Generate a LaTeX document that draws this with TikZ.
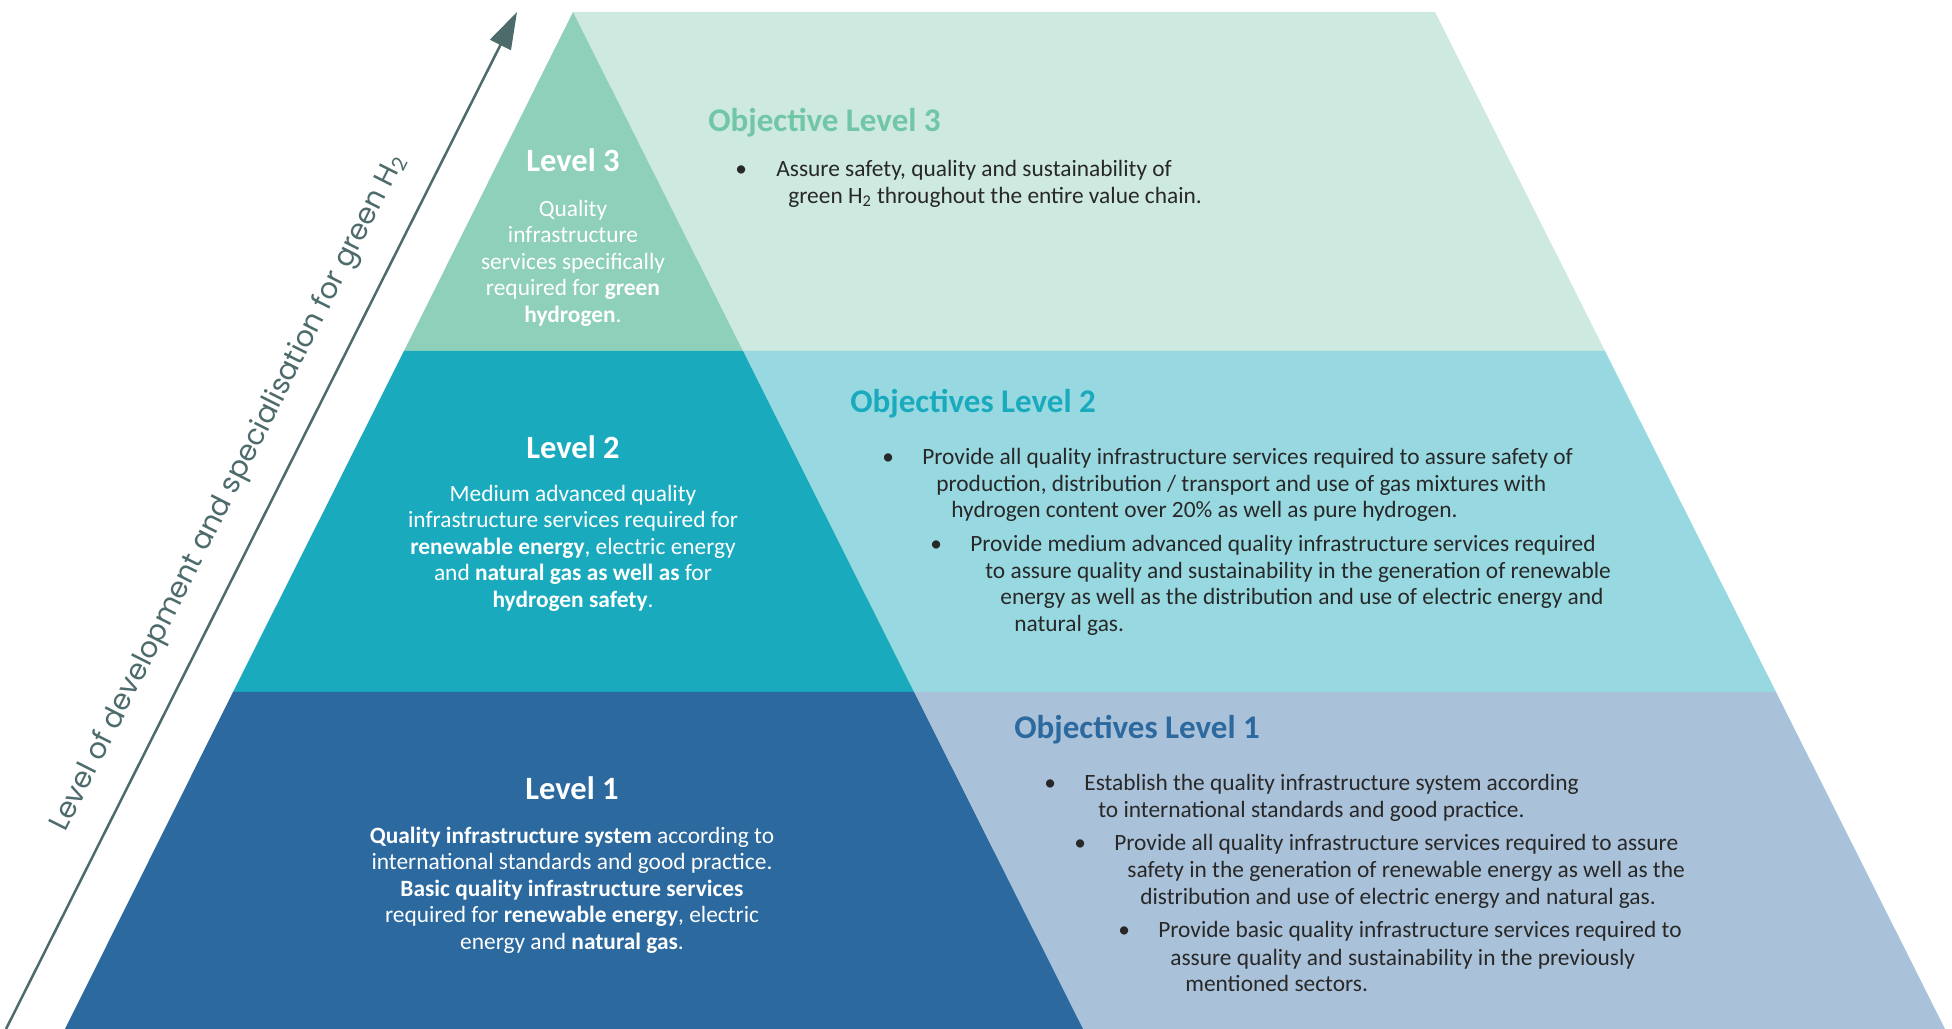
\documentclass[tikz,border=0pt]{standalone}
\usepackage{fontspec}
\setmainfont{Carlito}
\newfontfamily\axisfont{Poppins}
\usepackage{tikz}
\usetikzlibrary{arrows.meta}
\definecolor{lvlthreedark}{RGB}{143, 208, 186}
\definecolor{lvlthreelight}{RGB}{205, 233, 224}
\definecolor{lvltwodark}{RGB}{26, 170, 190}
\definecolor{lvltwolight}{RGB}{152, 217, 225}
\definecolor{lvlonedark}{RGB}{44, 105, 159}
\definecolor{lvlonelight}{RGB}{170, 194, 217}
\definecolor{titlethree}{RGB}{112, 198, 166}
\definecolor{bodytext}{RGB}{40, 40, 40}
\definecolor{axiscolor}{RGB}{78, 107, 108}

\begin{document}
\begin{tikzpicture}[
    x=0.2mm, y=0.2mm,
    lvlhead/.style={text=white, font=\fontsize{18.5}{22}\selectfont\bfseries},
    lvltext/.style={text=white, align=center, font=\fontsize{13.3}{15.1}\selectfont},
    objhead/.style={anchor=mid west, inner sep=0pt, font=\fontsize{18.8}{22}\selectfont\bfseries},
    objline/.style={anchor=mid west, inner sep=0pt, text=bodytext, font=\fontsize{13.3}{15.1}\selectfont},
    axisline/.style={draw=axiscolor, line width=0.5mm, -{Triangle[length=7.4mm, width=4.6mm]}},
]
    \useasboundingbox (0,0) rectangle (1952,1029);

    % Objective bands
    \fill[lvlthreelight] (573,1017) -- (1435,1017) -- (1605,678) -- (743,678) -- cycle;
    \fill[lvltwolight] (743,678) -- (1605,678) -- (1776,337) -- (914,337) -- cycle;
    \fill[lvlonelight] (914,337) -- (1776,337) -- (1945,0) -- (1083,0) -- cycle;

    % Pyramid levels
    \fill[lvlthreedark] (573,1017) -- (743,678) -- (404,678) -- cycle;
    \fill[lvltwodark] (404,678) -- (743,678) -- (914,337) -- (233,337) -- cycle;
    \fill[lvlonedark] (233,337) -- (914,337) -- (1083,0) -- (65,0) -- cycle;

    % Axis
    \coordinate (axisstart) at (6,0);
    \coordinate (axistip) at (517,1017);
    \draw[axisline] (axisstart) -- (axistip);
    \node[text=axiscolor, font=\axisfont\fontsize{16.3}{18}\selectfont, rotate=63.3] (axislabel) at (229,536) {Level of development and specialisation for green H\textsubscript{2}};

    % Level 3
    \node[lvlhead] (lvlthree) at (573,869) {Level 3};
    \node[lvltext] (lvlthreetext) at (573,766) {Quality\\infrastructure\\services specifically\\required for \textbf{green}\\\textbf{hydrogen}.};

    % Level 2
    \node[lvlhead] (lvltwo) at (573,582) {Level 2};
    \node[lvltext] (lvltwotext) at (573,481) {Medium advanced quality\\infrastructure services required for\\\textbf{renewable energy}, electric energy\\and \textbf{natural gas as well as} for\\\textbf{hydrogen safety}.};

    % Level 1
    \node[lvlhead] (lvlone) at (572,241) {Level 1};
    \node[lvltext] (lvlonetext) at (572,139) {\textbf{Quality infrastructure system} according to\\international standards and good practice.\\\textbf{Basic quality infrastructure services}\\required for \textbf{renewable energy}, electric\\energy and \textbf{natural gas}.};

    % Objective Level 3
    \node[objhead, text=titlethree] (objthree) at (708,902) {Objective Level 3};
    \node[objline] (objthreebul) at (735,857) {•};
    \node[objline] (objthreea) at (776,857) {Assure safety, quality and sustainability of};
    \node[objline] (objthreeb) at (788,830) {green H\textsubscript{2} throughout the entire value chain.};

    % Objectives Level 2
    \node[objhead, text=lvltwodark] (objtwo) at (850,621) {Objectives Level 2};
    \node[objline] (objtwobula) at (882,569) {•};
    \node[objline] (objtwoaa) at (922,569) {Provide all quality infrastructure services required to assure safety of};
    \node[objline] (objtwoab) at (936,542) {production, distribution / transport and use of gas mixtures with};
    \node[objline] (objtwoac) at (951,516) {hydrogen content over 20\% as well as pure hydrogen.};
    \node[objline] (objtwobulb) at (930,482) {•};
    \node[objline] (objtwoba) at (970,482) {Provide medium advanced quality infrastructure services required};
    \node[objline] (objtwobb) at (985,455) {to assure quality and sustainability in the generation of renewable};
    \node[objline] (objtwobc) at (1000,429) {energy as well as the distribution and use of electric energy and};
    \node[objline] (objtwobd) at (1014,402) {natural gas.};

    % Objectives Level 1
    \node[objhead, text=lvlonedark] (objone) at (1014,295) {Objectives Level 1};
    \node[objline] (objonebula) at (1044,243) {•};
    \node[objline] (objoneaa) at (1084,243) {Establish the quality infrastructure system according};
    \node[objline] (objoneab) at (1098,216) {to international standards and good practice.};
    \node[objline] (objonebulb) at (1074,183) {•};
    \node[objline] (objoneba) at (1114,183) {Provide all quality infrastructure services required to assure};
    \node[objline] (objonebb) at (1127,156) {safety in the generation of renewable energy as well as the};
    \node[objline] (objonebc) at (1140,129) {distribution and use of electric energy and natural gas.};
    \node[objline] (objonebulc) at (1118,96) {•};
    \node[objline] (objoneca) at (1158,96) {Provide basic quality infrastructure services required to};
    \node[objline] (objonecb) at (1170,68) {assure quality and sustainability in the previously};
    \node[objline] (objonecc) at (1185,42) {mentioned sectors.};
\end{tikzpicture}
\end{document}
